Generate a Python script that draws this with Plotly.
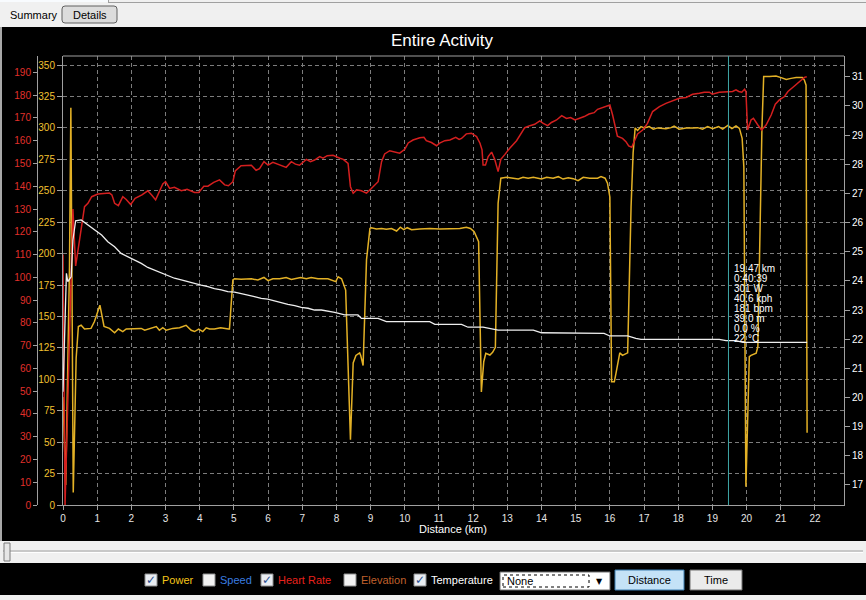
import plotly.graph_objects as go

# ---------------- data ----------------
power_km = [0.00, 0.08, 0.19, 0.23, 0.26, 0.30, 0.385, 0.45, 0.53, 0.63, 0.82, 0.92, 1.08, 1.20, 1.36,
            1.51, 1.62, 1.75, 1.85, 2.09, 2.29, 2.39, 2.58, 2.73, 2.82, 2.92, 3.02, 3.21, 3.41, 3.60,
            3.75, 3.85, 3.97, 4.09, 4.19, 4.29, 4.43, 4.61, 4.84, 4.87, 4.97, 5.02, 5.21, 5.51, 5.70,
            5.88, 6.00, 6.14, 6.34, 6.53, 6.68, 6.78, 6.95, 7.12, 7.26, 7.46, 7.60, 7.75, 7.98, 8.05,
            8.15, 8.21, 8.27, 8.41, 8.49, 8.57, 8.68, 8.71, 8.78, 8.88, 8.98, 9.02, 9.17, 9.32, 9.46,
            9.61, 9.76, 9.87, 9.97, 10.07, 10.20, 10.44, 10.73, 11.02, 11.32, 11.61, 11.80, 11.92, 12.03,
            12.10, 12.16, 12.24, 12.31, 12.37, 12.49, 12.57, 12.65, 12.73, 12.81, 12.98, 13.17, 13.32,
            13.46, 13.61, 13.76, 13.90, 14.00, 14.15, 14.34, 14.49, 14.63, 14.78, 14.93, 15.07, 15.22,
            15.41, 15.64, 15.74, 15.86, 15.93, 16.00, 16.05, 16.13, 16.18, 16.29, 16.37, 16.52, 16.62,
            16.68, 16.74, 16.81, 16.91, 17.01, 17.15, 17.27, 17.40, 17.54, 17.64, 17.79, 17.88, 18.03,
            18.23, 18.42, 18.57, 18.71, 18.86, 19.01, 19.18, 19.30, 19.45, 19.57, 19.69, 19.79, 19.87,
            19.92, 19.98, 20.08, 20.13, 20.28, 20.33, 20.45, 20.50, 20.67, 20.86, 21.01, 21.16, 21.30,
            21.45, 21.63, 21.69, 21.74, 21.77]
power_w = [86, 16, 190, 316, 190, 10, 117, 142, 143, 140, 140.5, 146, 159, 142, 140.5,
           137, 140, 138, 140, 140, 140.5, 139, 140.5, 142, 139, 141, 139, 140.5, 141, 143,
           139, 138, 140, 138, 141, 140, 140, 141, 140, 140, 179, 180, 179.5, 180, 179,
           181, 178.5, 180, 180, 181, 179.5, 180, 181, 180, 181, 180, 180, 180, 177.7, 181.6,
           180, 175, 171, 52, 113, 119, 121, 119, 111, 195, 220, 220.6, 219.6, 220, 219.3,
           220, 218, 221, 219, 220.6, 219, 219.6, 220, 219.6, 219.8, 220, 221, 220, 217.4,
           213.5, 209.5, 90, 114, 120.7, 119.3, 121.5, 125.4, 240, 260, 260.7, 260, 259.3,
           260.7, 260, 260.7, 260, 259.3, 260.7, 260, 261.2, 259.3, 260.4, 259.6, 258, 260.7,
           260, 260, 261.2, 260, 256, 245, 98, 98, 105, 121, 119, 121, 237,
           280, 300, 298, 301, 300, 301, 299, 300, 300, 299.4, 300.2, 301.5, 299,
           300, 300, 300.2, 299, 301, 299.4, 301, 299, 302, 299.4, 301.5, 299.6, 291.7,
           269, 14.6, 118, 119, 120.7, 126, 301, 340.8, 340.8, 341.3, 340, 338.6, 339.4,
           340, 340, 338, 334, 57.5]

hr_km = [0.00, 0.06, 0.29, 0.37, 0.63, 0.73, 0.84, 1.02, 1.36, 1.43, 1.51, 1.62, 1.75, 1.85, 1.98,
         2.11, 2.31, 2.48, 2.60, 2.71, 2.92, 3.00, 3.12, 3.26, 3.46, 3.63, 3.85, 3.97, 4.12, 4.24,
         4.41, 4.58, 4.73, 4.84, 4.97, 5.04, 5.21, 5.51, 5.65, 5.75, 5.88, 6.00, 6.14, 6.39, 6.53,
         6.68, 6.80, 6.92, 7.12, 7.24, 7.36, 7.51, 7.61, 7.73, 7.90, 8.10, 8.20, 8.34, 8.41, 8.49,
         8.59, 8.73, 8.88, 9.02, 9.22, 9.32, 9.41, 9.56, 9.71, 9.85, 10.00, 10.10, 10.24, 10.44,
         10.56, 10.63, 10.78, 10.93, 11.02, 11.17, 11.32, 11.41, 11.49, 11.59, 11.66, 11.80, 11.95,
         12.10, 12.20, 12.26, 12.29, 12.36, 12.44, 12.54, 12.63, 12.73, 12.81, 12.93, 13.07, 13.27,
         13.37, 13.51, 13.66, 13.80, 13.95, 14.05, 14.18, 14.29, 14.44, 14.59, 14.73, 14.85, 14.98,
         15.12, 15.25, 15.39, 15.54, 15.64, 15.79, 16.00, 16.08, 16.22, 16.37, 16.47, 16.55, 16.64,
         16.71, 16.81, 16.96, 17.10, 17.25, 17.45, 17.64, 17.84, 18.03, 18.23, 18.42, 18.62, 18.76,
         18.91, 19.00, 19.20, 19.40, 19.59, 19.69, 19.77, 19.86, 19.94, 19.98, 20.03, 20.13, 20.20,
         20.33, 20.44, 20.57, 20.72, 20.84, 20.96, 21.11, 21.21, 21.40, 21.55, 21.69, 21.76]
hr_bpm = [110, 0, 130, 105, 131, 132.5, 135.4, 136.6, 137, 136.2, 132.5, 131.5, 135.4, 134.2, 132,
          134.7, 136.2, 138, 136, 134, 141, 142, 139, 139.5, 138, 138.7, 137.3, 137.3, 140, 140,
          141.7, 142.8, 140.6, 140.2, 142, 146.7, 149, 149.2, 147, 147.7, 150.8, 149.3, 150.5, 149, 148.3,
          150.8, 149.7, 149.2, 151.8, 150.8, 151.5, 153, 152.3, 153.4, 153.6, 152.3, 151.8, 150, 139.8, 136.9,
          138.4, 138, 137, 139, 142, 150.8, 154.2, 155.6, 155.2, 154.5, 156.2, 159, 160.3, 161.3,
          161.5, 160, 159.2, 157.8, 158.9, 160, 160.3, 160.8, 161.5, 160.6, 161, 163, 163.3,
          161.8, 158.9, 156, 149.3, 149.3, 153, 155, 151.8, 146.4, 151.8, 154, 156.7, 160,
          162.2, 165.7, 166.6, 167.2, 168.7, 167.6, 166.6, 168, 169.1, 171, 169.8, 170.2, 169.1,
          169.8, 170.6, 171.7, 172.3, 173.8, 174.5, 175.7, 171.3, 162, 161, 159.6, 157.7, 157.1,
          159.6, 163, 164.7, 167.6, 172.8, 175, 176.4, 177.6, 178.6, 179, 180.4, 180.8, 181.3,
          181.3, 180.4, 181.3, 181.3, 181.6, 182.3, 181.6, 181.3, 182.6, 181.6, 164.7, 169.1, 169.8,
          166.9, 164.7, 166.9, 171.3, 176, 177.9, 179.4, 181.6, 184, 186, 187.8, 188.1]

temp_km = [0.00, 0.10, 0.14, 0.24, 0.29, 0.37, 0.53, 0.63, 0.73, 0.93, 1.13, 1.31, 1.51, 1.70, 1.90,
           2.09, 2.29, 2.48, 2.68, 2.87, 3.07, 3.26, 3.46, 3.65, 3.85, 4.04, 4.24, 4.43, 4.63, 4.82,
           5.02, 5.21, 5.41, 5.60, 5.80, 5.99, 6.19, 6.39, 6.58, 6.78, 6.97, 7.17, 7.36, 7.56, 7.75,
           7.95, 8.24, 8.63, 8.73, 9.22, 9.46, 10.73, 10.88, 11.66, 11.85, 12.29, 12.73, 13.76, 14.00,
           15.83, 16.00, 16.52, 16.76, 16.91, 19.20, 19.40, 19.69, 19.89, 21.77]
temp_c = [20.2, 24.26, 23.97, 24.14, 25.4, 26.06, 26.09, 26.0, 25.91, 25.74, 25.57, 25.34, 25.17, 24.94, 24.83,
          24.71, 24.6, 24.46, 24.37, 24.28, 24.17, 24.09, 24.03, 23.97, 23.89, 23.85, 23.8, 23.73, 23.69, 23.63,
          23.61, 23.57, 23.51, 23.46, 23.4, 23.37, 23.31, 23.23, 23.19, 23.15, 23.09, 23.06, 23.0, 23.0, 22.97,
          22.92, 22.83, 22.83, 22.71, 22.71, 22.6, 22.6, 22.51, 22.51, 22.41, 22.41, 22.31, 22.31, 22.22,
          22.2, 22.11, 22.11, 22.03, 21.99, 21.99, 21.95, 21.95, 21.89, 21.89]

x_tickvals = list(range(0, 23))
power_tickvals = list(range(0, 351, 25))
hr_tickvals = list(range(0, 191, 10))
temp_tickvals = list(range(17, 32))

cursor_km = 19.47
cursor_lines = ["19.47 km", "0:40:39", "301 W", "40.6 kph", "181 bpm", "39.0 m", "0.0 %", "22 °C"]

legend_labels = ["Power", "Speed", "Heart Rate", "Elevation", "Temperature"]
legend_checked = [True, False, True, False, True]
legend_colors = ["#f5c518", "#3a7ee0", "#e8221c", "#c0602c", "#ffffff"]

# ---------------- layout helpers ----------------
FONT = "Liberation Sans, Arial, sans-serif"
W, H = 866, 600
ML, MR, MT, MB = 0, 22, 56, 95
PW, PH = W - ML - MR, H - MT - MB
PLOT_LEFT = 63


def px(x):
    return (x - ML) / PW


def py(y):
    return (H - MB - y) / PH


shapes = []
annotations = []


def rect(x0, y0, x1, y1, fill, line=None, lw=1, dash=None):
    ln = dict(color=line if line else fill, width=lw if line else 0)
    if dash:
        ln["dash"] = dash
    shapes.append(dict(type="rect", xref="paper", yref="paper", x0=px(x0), x1=px(x1),
                       y0=py(y1), y1=py(y0), fillcolor=fill, line=ln, layer="above"))


def hline(x0, x1, y, color, lw=1):
    shapes.append(dict(type="line", xref="paper", yref="paper", x0=px(x0), x1=px(x1),
                       y0=py(y), y1=py(y), line=dict(color=color, width=lw), layer="above"))


def vline(x, y0, y1, color, lw=1):
    shapes.append(dict(type="line", xref="paper", yref="paper", x0=px(x), x1=px(x),
                       y0=py(y0), y1=py(y1), line=dict(color=color, width=lw), layer="above"))


def roundrect(x0, y0, x1, y1, r, fill, line):
    p = lambda x, y: f"{px(x)},{py(y)}"
    path = (f"M {p(x0 + r, y0)} L {p(x1 - r, y0)} Q {p(x1, y0)} {p(x1, y0 + r)} "
            f"L {p(x1, y1 - r)} Q {p(x1, y1)} {p(x1 - r, y1)} L {p(x0 + r, y1)} "
            f"Q {p(x0, y1)} {p(x0, y1 - r)} L {p(x0, y0 + r)} Q {p(x0, y0)} {p(x0 + r, y0)} Z")
    shapes.append(dict(type="path", xref="paper", yref="paper", path=path,
                       fillcolor=fill, line=dict(color=line, width=1), layer="above"))


def text(x, y, s, color, size=11, xanchor="left", family=FONT):
    annotations.append(dict(xref="paper", yref="paper", x=px(x), y=py(y), text=s,
                            showarrow=False, xanchor=xanchor, yanchor="middle",
                            font=dict(color=color, size=size, family=family)))


# ---------------- figure ----------------
fig = go.Figure()
fig.add_trace(go.Scatter(x=power_km, y=power_w, yaxis="y", mode="lines",
                         line=dict(color="#e3b126", width=1.5), hoverinfo="skip"))
fig.add_trace(go.Scatter(x=hr_km, y=hr_bpm, yaxis="y2", mode="lines",
                         line=dict(color="#d41f1f", width=1.5), hoverinfo="skip"))
fig.add_trace(go.Scatter(x=temp_km, y=temp_c, yaxis="y3", mode="lines",
                         line=dict(color="#eeeeee", width=1.3), hoverinfo="skip"))

GRID = "#7c7c7c"
AXL = "#a0a0a0"

# top tab strip
rect(0, 0, 866, 27, "#f0f0f0")
rect(0, 0, 108, 2, "#f8fbfe")
hline(108, 866, 2.5, "#a0a0a0")
vline(108.5, 0, 2.5, "#a0a0a0")
text(8, 14.5, "Summary", "#000000", 11)
roundrect(62, 6, 117, 23, 3, "#dcdcdc", "#606060")
text(89.5, 14.5, "Details", "#000000", 11, "center")

# left border of black panel
rect(0, 27, 2, 541, "#a8a8a8")

# plot top border
hline(PLOT_LEFT, 844, 56, AXL)

# title
text(442, 41, "Entire Activity", "#ffffff", 17, "center")
# x axis title
text(453, 529, "Distance (km)", "#ffffff", 11, "center")

# cursor line + readout
shapes.append(dict(type="line", xref="x", yref="paper", x0=cursor_km, x1=cursor_km, y0=0, y1=1,
                   line=dict(color="#3fa7a7", width=1), layer="above"))
for i, s in enumerate(cursor_lines):
    text(731.5, 268.3 + i * 10.05, s, "#ffffff", 10)

# slider strip
rect(0, 541, 866, 563, "#f0f0f0")
hline(3, 863, 551, "#a0a0a0")
hline(3, 863, 552.5, "#ffffff")
rect(4, 543, 10, 561, "#e6e6e6", "#7a7a7a")

# bottom strip
rect(0, 595, 866, 600, "#f0f0f0")

# legend checkboxes
box_x = [145, 203, 261, 344, 414]
for bx, lab, chk, col in zip(box_x, legend_labels, legend_checked, legend_colors):
    rect(bx, 574, bx + 12, 586, "#e9edf2" if chk else "#f2f2f2", "#8e8f8f")
    if chk:
        text(bx + 6, 580, "✓", "#2a4f8f", 12, "center", "DejaVu Sans")
    text(bx + 15, 580, lab, col, 11)

# dropdown
rect(500, 572, 610, 590, "#ffffff", "#707070")
rect(503, 575, 589, 587, "rgba(0,0,0,0)", "#000000", 1, "dot")
text(505, 581, "None", "#000000", 11)
text(599, 581, "▼", "#000000", 8, "center", "DejaVu Sans")

# buttons
rect(615, 570, 684, 590, "#c4e2f7", "#3c7fb1")
text(649.5, 580, "Distance", "#000000", 11, "center")
rect(690, 570, 742, 590, "#ebebeb", "#707070")
text(716, 580, "Time", "#000000", 11, "center")

fig.update_layout(
    width=W, height=H,
    margin=dict(l=ML, r=MR, t=MT, b=MB, pad=0),
    paper_bgcolor="#000000", plot_bgcolor="#000000",
    showlegend=False, hovermode=False,
    font=dict(family=FONT, color="#ffffff"),
    xaxis=dict(domain=[PLOT_LEFT / PW, 1], range=[0, 22.85], tickvals=x_tickvals,
               ticks="outside", ticklen=4, tickcolor=AXL, showline=True, linecolor=AXL,
               showgrid=True, gridcolor=GRID, griddash="4px,3px", gridwidth=1, zeroline=False,
               tickfont=dict(color="#e6e6e6", size=10, family=FONT), automargin=False),
    yaxis=dict(range=[0, 357.2], tickvals=power_tickvals, ticks="outside", ticklen=5,
               tickcolor=AXL, showline=True, linecolor=AXL, showgrid=True, gridcolor=GRID,
               griddash="4px,3px", gridwidth=1, zeroline=False,
               tickfont=dict(color="#f2c230", size=10, family=FONT), automargin=False),
    yaxis2=dict(overlaying="y", side="left", anchor="free", position=37 / PW,
                range=[0, 197.2], tickvals=hr_tickvals, ticks="outside", ticklen=4,
                tickcolor=AXL, showline=True, linecolor=AXL, showgrid=False, zeroline=False,
                tickfont=dict(color="#e2302b", size=10, family=FONT), automargin=False),
    yaxis3=dict(overlaying="y", side="right", anchor="x", range=[16.314, 31.71],
                tickvals=temp_tickvals, ticks="outside", ticklen=5, tickcolor=AXL,
                showline=True, linecolor=AXL, showgrid=False, zeroline=False,
                tickfont=dict(color="#ffffff", size=10, family=FONT), automargin=False),
    shapes=shapes, annotations=annotations,
)

fig.write_html("out.html", config={"displayModeBar": False},
               post_script="document.body.style.margin='0px';document.body.style.padding='0px';"
                           "document.body.style.background='#000000';")
